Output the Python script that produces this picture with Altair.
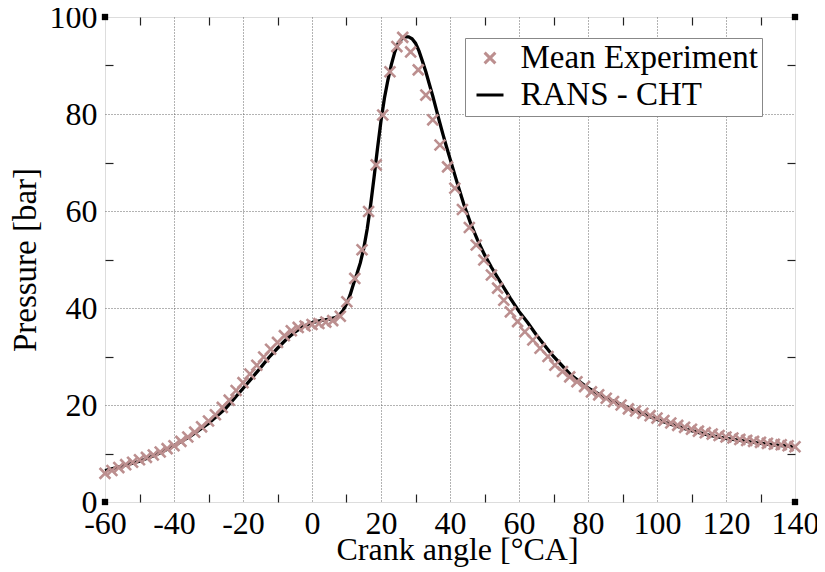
import altair as alt
import pandas as pd

# ---------------- data ----------------
rans_angle = [-60, -55, -50, -45, -40, -35, -30, -25, -20, -17.5, -15, -12.5, -10, -7.5, -5, -2.5,
              0, 2.5, 5, 7, 8, 9, 10, 11, 12, 13, 14, 15, 16, 17, 18, 19, 20, 21, 22, 23, 24, 25,
              26, 27, 28, 29, 30, 31, 32, 33, 34, 35, 36, 37, 38, 39, 40, 42, 44, 46, 48, 50, 52,
              55, 57.5, 60, 62.5, 65, 67.5, 70, 75, 80, 85, 90, 95, 100, 105, 110, 115, 120, 125,
              130, 135, 140]
rans_p = [6.5, 7.4, 8.4, 9.8, 11.6, 13.7, 16.2, 19.3, 23.4, 25.5, 27.6, 29.8, 31.7, 33.5, 35.0, 36.2,
          37.0, 37.4, 37.7, 38.1, 38.6, 39.5, 40.8, 42.6, 44.9, 47.0, 49.3, 52.3, 56.3, 61.3, 67.0, 73.0,
          78.6, 83.3, 87.0, 90.2, 92.8, 94.6, 95.5, 95.9, 95.9, 95.5, 94.6, 93.0, 90.9, 88.7, 86.2, 83.7,
          81.0, 78.3, 75.7, 73.2, 70.8, 66.0, 61.4, 57.4, 54.0, 51.0, 48.4, 44.9, 42.0, 39.3, 37.0, 34.5,
          32.2, 30.0, 26.2, 23.5, 21.5, 20.0, 18.4, 17.0, 15.8, 14.7, 13.8, 13.1, 12.6, 12.1, 11.7, 11.4]

ex_angle = [-60, -58, -56, -54, -52, -50, -48, -46, -44, -42, -40, -38, -36, -34, -32, -30, -28, -26,
            -24, -22, -20, -18, -16, -14, -12, -10, -8, -6, -4, -2, 0, 2, 4, 6, 8.2, 10.1, 12.4, 14.5,
            16.4, 18.6, 20.5, 22.6, 24.6, 26.3, 28.6, 30.8, 33.0, 35.0, 37.1, 39.3, 41.4, 43.6, 45.6,
            47.6, 49.8, 52.0, 53.8, 55.6, 57.5, 59.6, 61.7, 64.0, 66.1, 68.4, 70.4, 72.6, 74.7, 76.8,
            79.0, 81.0, 83.1, 85.3, 87.4, 89.6, 91.7, 93.8, 95.9, 98, 100, 102, 104, 106, 108, 110,
            112, 114, 116, 118, 120, 122, 124, 126, 128, 130, 132, 134, 136, 138, 140]
ex_p = [5.9, 6.5, 7.1, 7.7, 8.2, 8.7, 9.2, 9.7, 10.3, 11.0, 11.6, 12.5, 13.4, 14.4, 15.5, 16.7, 18.0, 19.5,
        21.0, 23.0, 24.6, 26.4, 28.2, 29.9, 31.5, 32.9, 34.3, 35.3, 36.0, 36.3, 36.6, 36.8, 37.1, 37.4,
        38.3, 41.3, 46.1, 52.0, 59.9, 69.5, 79.8, 88.7, 93.9, 95.8, 92.8, 89.1, 83.9, 78.8, 73.6, 69.1,
        64.7, 60.3, 56.6, 53.0, 49.9, 46.8, 44.1, 41.6, 39.2, 37.2, 35.1, 33.4, 31.7, 30.0, 28.2, 26.9,
        25.8, 24.8, 23.8, 22.7, 22.1, 21.4, 20.7, 20.0, 19.2, 18.8, 18.3, 17.8, 17.3, 16.8, 16.3, 15.8,
        15.4, 15.0, 14.6, 14.3, 14.0, 13.7, 13.4, 13.2, 12.9, 12.7, 12.5, 12.3, 12.1, 11.9, 11.8, 11.6,
        11.4]

series = ["Mean Experiment", "RANS - CHT"]
x_domain = [-60, 140]
y_domain = [0, 100]
x_labels = [-60, -40, -20, 0, 20, 40, 60, 80, 100, 120, 140]
x_minor = [-50, -30, -10, 10, 30, 50, 70, 90, 110, 130]
y_labels = [0, 20, 40, 60, 80, 100]
y_minor = [10, 30, 50, 70, 90]

# ---------------- tables ----------------
rans_df = pd.DataFrame({"angle": rans_angle, "pressure": rans_p, "series": series[1]})
ex_df = pd.DataFrame({"angle": ex_angle, "pressure": ex_p, "series": series[0]})
corner_df = pd.DataFrame({
    "angle": [x_domain[0], x_domain[0], x_domain[1], x_domain[1]],
    "pressure": [y_domain[0], y_domain[1], y_domain[0], y_domain[1]],
})

FONT = "Liberation Serif"
X_PATH = "M-0.4,-0.4L0.4,0.4M-0.4,0.4L0.4,-0.4"
HYPHEN = "replace(datum.label, '\u2212', '-')"

xscale = alt.Scale(domain=x_domain, nice=False, zero=False)
yscale = alt.Scale(domain=y_domain, nice=False, zero=False)
color_scale = alt.Scale(domain=series, range=["#bc8f8f", "#000000"])
shape_scale = alt.Scale(domain=series, range=[X_PATH, "stroke"])

legend = alt.Legend(
    title="", orient="none", legendX=360, legendY=21, padding=3.5,
    fillColor="white", strokeColor="#888888",
    labelFont=FONT, labelFontSize=33, labelColor="black", labelLimit=400,
    symbolOffset=5, labelOffset=14, symbolSize=729, symbolStrokeWidth=3, rowPadding=3,
)

grid_cond_x = {"condition": {"test": "datum.value == -60 || datum.value == 140", "value": 0}, "value": 1}
grid_cond_y = {"condition": {"test": "datum.value == 0 || datum.value == 100", "value": 0}, "value": 1}

line = alt.Chart(rans_df).mark_line(strokeWidth=3.3).encode(
    x=alt.X("angle:Q", scale=xscale, axis=alt.Axis(
        values=x_labels, orient="bottom", grid=True, ticks=False, domain=False,
        labelPadding=6, labelFont=FONT, labelFontSize=32, labelColor="black",
        labelFlush=False, labelOverlap=False, labelExpr=HYPHEN,
        gridDash=[1, 2], gridColor="#666666", gridWidth=1, gridOpacity=grid_cond_x,
        title="Crank angle [°CA]", titleFont=FONT, titleFontSize=32, titleFontWeight="normal",
        titleColor="black", titleX=352, titleY=57, titleBaseline="alphabetic")),
    y=alt.Y("pressure:Q", scale=yscale, axis=alt.Axis(
        values=y_labels, orient="left", grid=True, ticks=False, domain=False,
        labelPadding=8, labelFont=FONT, labelFontSize=32, labelColor="black",
        labelFlush=False, labelOverlap=False,
        gridDash=[1, 2], gridColor="#666666", gridWidth=1, gridOpacity=grid_cond_y,
        title="Pressure [bar]", titleFont=FONT, titleFontSize=33, titleFontWeight="normal",
        titleColor="black", titleX=-70, titleY=242.5, titleBaseline="alphabetic",
        titleAlign="center")),
    color=alt.Color("series:N", scale=color_scale, legend=legend),
)

points = alt.Chart(ex_df).mark_point(filled=False, size=729, strokeWidth=2.6, opacity=1).encode(
    x=alt.X("angle:Q", scale=xscale, axis=alt.Axis(
        values=x_minor, orient="bottom", offset=-8, tickSize=8, tickColor="#222222", tickWidth=1.2,
        labels=False, domain=False, grid=False, title="")),
    y=alt.Y("pressure:Q", scale=yscale, axis=alt.Axis(
        values=y_minor, orient="left", offset=-8, tickSize=8, tickColor="#222222", tickWidth=1.2,
        labels=False, domain=False, grid=False, title="")),
    color=alt.Color("series:N", scale=color_scale, legend=legend),
    shape=alt.Shape("series:N", scale=shape_scale, legend=legend),
)

corners = alt.Chart(corner_df).mark_square(size=40, color="black", opacity=1).encode(
    x=alt.X("angle:Q", scale=xscale, axis=alt.Axis(
        values=x_minor, orient="top", offset=-8, tickSize=8, tickColor="#222222", tickWidth=1.2,
        labels=False, domain=False, grid=False, title="")),
    y=alt.Y("pressure:Q", scale=yscale, axis=alt.Axis(
        values=y_minor, orient="right", offset=-8, tickSize=8, tickColor="#222222", tickWidth=1.2,
        labels=False, domain=False, grid=False, title="")),
)

chart = alt.layer(line, points, corners).resolve_axis(
    x="independent", y="independent"
).properties(
    width=690, height=485,
    autosize=alt.AutoSizeParams(type="none"),
    padding={"left": 97, "top": 9, "right": 22, "bottom": 65},
    background="white",
).configure_view(
    stroke="#555555", strokeWidth=1
).configure(font=FONT)

chart.save("out.html", embed_options={"renderer": "svg", "actions": False})
